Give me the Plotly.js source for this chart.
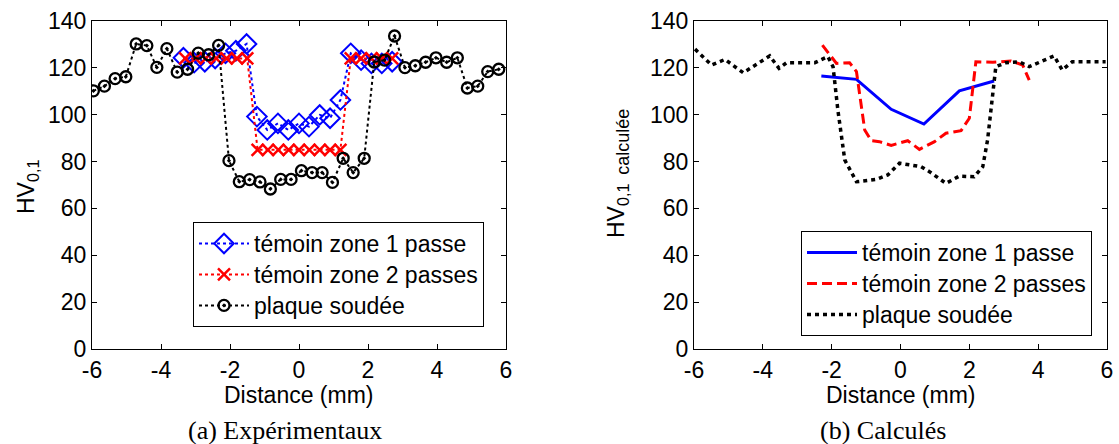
<!DOCTYPE html>
<html>
<head>
<meta charset="utf-8">
<script src="https://cdn.plot.ly/plotly-3.0.1.min.js"></script>
<style>html,body{margin:0;padding:0;background:#fff;}#chart{width:1119px;height:444px;}</style>
</head>
<body>
<div id="chart"></div>
<script>
// ---------- (a) Expérimentaux ----------
const expZone1X = [-3.35,-3.04,-2.73,-2.43,-2.13,-1.83,-1.52,-1.22,-0.92,-0.61,-0.31,0.0,0.29,0.6,0.9,1.2,1.5,1.8,2.1,2.4,2.7];
const expZone1Y = [124.3,122.2,122.6,124,126.2,127.3,130.2,99.2,93.5,96.3,93.5,96.3,94.9,99.9,98.5,106.3,126.2,123.3,121.9,121.9,122.6];
const expZone2X = [-3.3,-3.0,-2.7,-2.4,-2.1,-1.8,-1.5,-1.2,-0.9,-0.6,-0.3,0.0,0.3,0.6,0.9,1.2,1.5,1.8,2.1,2.4,2.7];
const expZone2Y = [124,124,124,124,124,124,124,85,85,85,85,85,85,85,85,85,124,124,124,124,124];
const expPlaqueX = [-5.96,-5.64,-5.33,-5.02,-4.72,-4.41,-4.12,-3.83,-3.53,-3.23,-2.92,-2.62,-2.33,-2.03,-1.73,-1.43,-1.13,-0.83,-0.53,-0.23,0.07,0.38,0.67,0.97,1.28,1.57,1.89,2.18,2.48,2.77,3.07,3.37,3.67,3.97,4.28,4.59,4.88,5.18,5.47,5.79];
const expPlaqueY = [110.2,112.2,115.4,116.2,130.2,129.5,120.2,128.2,118.2,119.4,126.3,125.6,129.6,80.4,71.4,72.3,71.3,68.3,72.4,72.4,76.1,75.3,75.3,71.1,81.4,75.3,81.4,122.5,123.3,133.6,120.1,120.9,122.4,124.3,122.4,124.3,111.4,112.2,118.4,119.4];

// ---------- (b) Calculés ----------
const calZone1X = [-2.3,-1.28,-0.27,0.68,1.71,2.72];
const calZone1Y = [116.5,115.1,102.3,96.0,110.2,114.4];
const calZone2X = [-2.27,-1.86,-1.48,-1.28,-1.04,-0.85,-0.61,-0.27,0.21,0.55,0.99,1.32,1.76,2.0,2.19,2.68,3.21,3.55,3.74];
const calZone2Y = [129.7,121.9,122.2,118.4,93.5,88.9,88.5,86.9,88.9,85.2,88.5,92.1,93.2,98.5,122.6,122.4,122.9,121.2,114.8];
const calPlaqueX = [-5.97,-5.49,-5.1,-4.57,-3.8,-3.53,-3.31,-2.49,-2.11,-1.96,-1.82,-1.62,-1.28,-0.7,-0.37,-0.03,0.6,0.84,1.32,1.71,2.14,2.39,2.53,2.68,2.77,3.06,3.45,3.74,4.46,4.7,4.99,5.96];
const calPlaqueY = [128,121.2,123.6,117.9,125.1,119.8,122.2,122.2,124.8,120.5,102,80.7,71.4,72.4,74.3,79.3,77.8,75.7,70.7,73.8,73.5,77.8,89.2,110.5,120.5,122.2,122.6,120.5,125.1,119.1,122.6,122.6];

// ---------- labels ----------
const seriesNames = ['témoin zone 1 passe','témoin zone 2 passes','plaque soudée'];
const xTickVals = [-6,-4,-2,0,2,4,6];
const yTickVals = [0,20,40,60,80,100,120,140];
const xTitle = 'Distance (mm)';
const yTitleA = 'HV<sub>0,1</sub>';
const yTitleB = 'HV<sub>0,1  <span style="font-size:18px">calculée</span></sub>';
const captionA = '(a) Expérimentaux';
const captionB = '(b) Calculés';

const W = 1119, H = 444;
const px = v => v / W, py = v => 1 - v / H;
const SANS = 'Liberation Sans, Arial, sans-serif';
const SERIF = 'Liberation Serif, Times New Roman, serif';
const FS = 23;
const legName = s => '<span style="font-size:23px">' + s + '</span>';

const traces = [
  {x: expZone1X, y: expZone1Y, name: legName(seriesNames[0]), xaxis:'x', yaxis:'y', legend:'legend', mode:'lines+markers',
   line:{color:'#0000ff', width:2, dash:'dot'}, marker:{symbol:'diamond-open', size:15, color:'#0000ff', line:{width:2, color:'#0000ff'}}},
  {x: expZone2X, y: expZone2Y, name: legName(seriesNames[1]), xaxis:'x', yaxis:'y', legend:'legend', mode:'lines+markers',
   line:{color:'#ff0000', width:2, dash:'dot'}, marker:{symbol:'x-thin-open', size:12, color:'#ff0000', line:{width:2.5, color:'#ff0000'}}},
  {x: expPlaqueX, y: expPlaqueY, name: legName(seriesNames[2]), xaxis:'x', yaxis:'y', legend:'legend', mode:'lines+markers',
   line:{color:'#000000', width:2, dash:'dot'}, marker:{symbol:'circle-open-dot', size:11, color:'#000000', line:{width:2.3, color:'#000000'}}},
  {x: calZone1X, y: calZone1Y, name: legName(seriesNames[0]), xaxis:'x2', yaxis:'y2', legend:'legend2', mode:'lines',
   line:{color:'#0000ff', width:3}},
  {x: calZone2X, y: calZone2Y, name: legName(seriesNames[1]), xaxis:'x2', yaxis:'y2', legend:'legend2', mode:'lines',
   line:{color:'#ff0000', width:3, dash:'10px,5px'}},
  {x: calPlaqueX, y: calPlaqueY, name: legName(seriesNames[2]), xaxis:'x2', yaxis:'y2', legend:'legend2', mode:'lines',
   line:{color:'#000000', width:3.5, dash:'4px,4px'}}
];

function xAxis(dom, anchor){
  return {domain: dom, anchor: anchor, range:[-6,6], tickvals:xTickVals, ticktext:xTickVals.map(String),
    ticks:'inside', ticklen:5, tickcolor:'#000', showline:true, linecolor:'#000', linewidth:1, mirror:'ticks',
    showgrid:false, zeroline:false, tickfont:{family:SANS, size:FS, color:'#000'}, fixedrange:true};
}
function yAxis(anchor){
  return {domain:[1-349/H, 1-21/H], anchor: anchor, range:[0,140], tickvals:yTickVals, ticktext:yTickVals.map(String),
    ticks:'inside', ticklen:5, tickcolor:'#000', showline:true, linecolor:'#000', linewidth:1, mirror:'ticks',
    showgrid:false, zeroline:false, tickfont:{family:SANS, size:FS, color:'#000'}, fixedrange:true};
}

const legendBase = {bgcolor:'#fff', bordercolor:'#000', borderwidth:1, font:{family:SANS, size:21.5, color:'#000'},
  xanchor:'left', yanchor:'top', itemwidth:50, tracegroupgap:0, orientation:'v'};

const layout = {
  width: W, height: H, margin:{l:0, r:0, t:0, b:0}, paper_bgcolor:'#fff', plot_bgcolor:'#fff',
  font:{family:SANS, size:FS, color:'#000'},
  xaxis: xAxis([px(92), px(506)], 'y'),
  yaxis: yAxis('x'),
  xaxis2: xAxis([px(694), px(1107)], 'y2'),
  yaxis2: yAxis('x2'),
  showlegend:true,
  legend: Object.assign({}, legendBase, {x: px(193), y: py(222)}),
  legend2: Object.assign({}, legendBase, {x: px(801), y: py(231)}),
  annotations: [
    {text: xTitle, xref:'paper', yref:'paper', x:px(299), y:py(395), xanchor:'center', yanchor:'middle', showarrow:false, font:{family:SANS, size:FS}},
    {text: xTitle, xref:'paper', yref:'paper', x:px(901), y:py(395), xanchor:'center', yanchor:'middle', showarrow:false, font:{family:SANS, size:FS}},
    {text: yTitleA, xref:'paper', yref:'paper', x:px(27), y:py(187), xanchor:'center', yanchor:'middle', textangle:-90, showarrow:false, font:{family:SANS, size:FS}},
    {text: yTitleB, xref:'paper', yref:'paper', x:px(618), y:py(174), xanchor:'center', yanchor:'middle', textangle:-90, showarrow:false, font:{family:SANS, size:FS}},
    {text: captionA, xref:'paper', yref:'paper', x:px(285), y:py(430), xanchor:'center', yanchor:'middle', showarrow:false, font:{family:SERIF, size:26}},
    {text: captionB, xref:'paper', yref:'paper', x:px(883), y:py(430), xanchor:'center', yanchor:'middle', showarrow:false, font:{family:SERIF, size:26}}
  ]
};

Plotly.newPlot('chart', traces, layout, {staticPlot:true, displayModeBar:false});
</script>
</body>
</html>
